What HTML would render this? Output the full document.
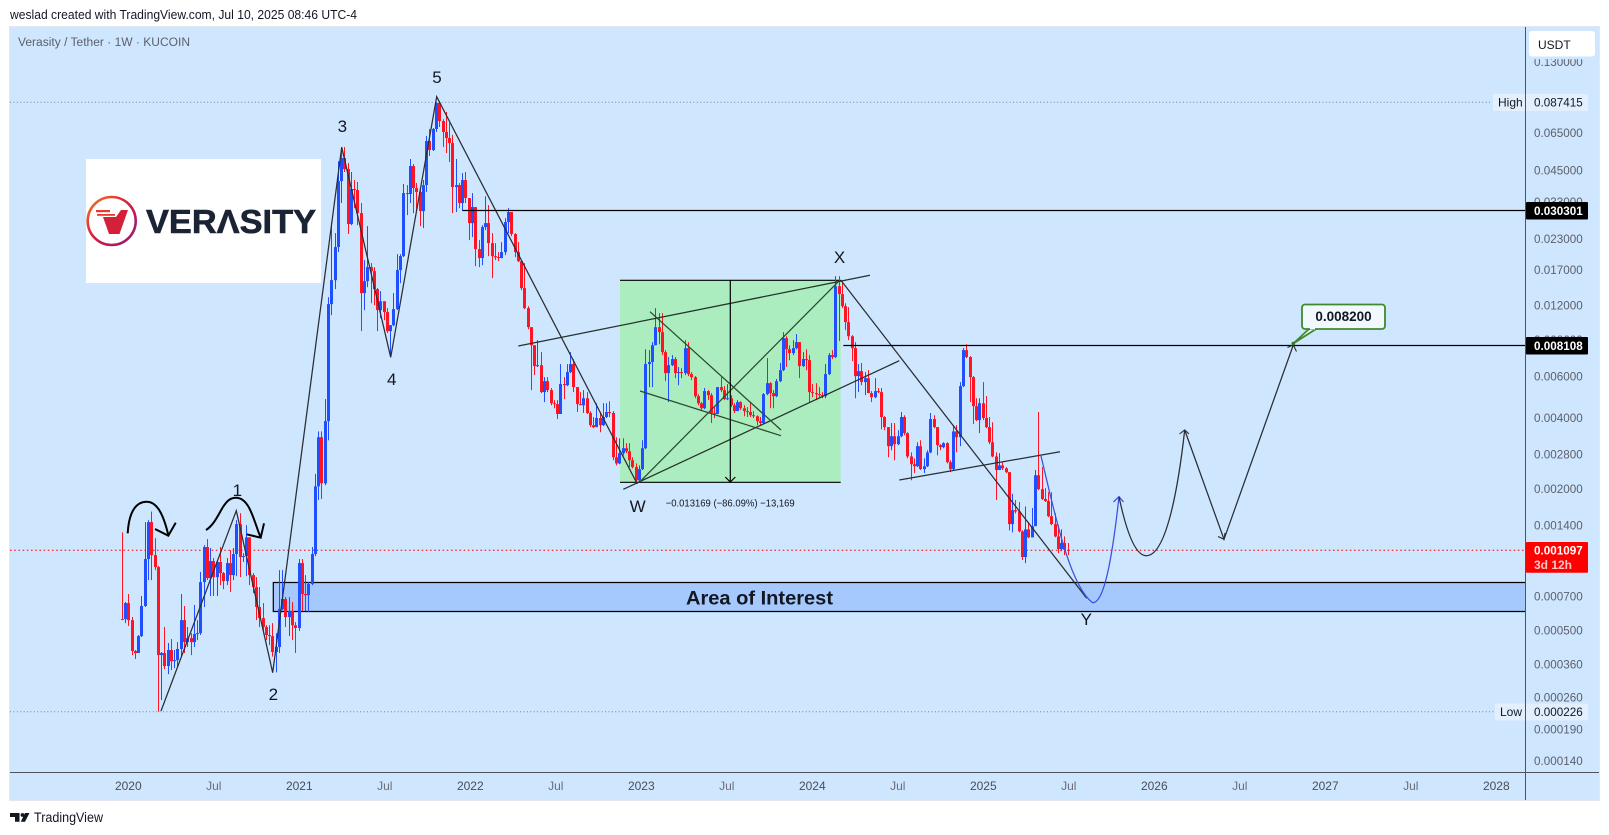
<!DOCTYPE html>
<html lang="en">
<head>
<meta charset="utf-8">
<title>Verasity / Tether 1W chart</title>
<style>
html,body{margin:0;padding:0;background:#fff;width:1609px;height:835px;overflow:hidden}
svg{display:block;font-family:"Liberation Sans",sans-serif}
</style>
</head>
<body>
<svg id="chart" xmlns="http://www.w3.org/2000/svg" width="1609" height="835" viewBox="0 0 1609 835">
  <defs>
    <linearGradient id="ring" x1="0" y1="0" x2="1" y2="1">
      <stop offset="0" stop-color="#f47a20"/>
      <stop offset="0.45" stop-color="#d81f3c"/>
      <stop offset="1" stop-color="#8c1a7c"/>
    </linearGradient>
  </defs>
  <text x="10" y="19" font-size="12.5" fill="#131722" textLength="347" lengthAdjust="spacingAndGlyphs">weslad created with TradingView.com, Jul 10, 2025 08:46 UTC-4</text>

  <rect x="9.5" y="26.5" width="1590" height="774" fill="#cfe6ff" stroke="#e4e8ee" stroke-width="1"/>
  <text x="18" y="46" font-size="11.5" fill="#5d606b" textLength="172" lengthAdjust="spacingAndGlyphs">Verasity / Tether · 1W · KUCOIN</text>

  <g>
    <rect x="86" y="159" width="235" height="124" fill="#ffffff"/>
    <circle cx="111.7" cy="221" r="24" fill="none" stroke="url(#ring)" stroke-width="2.6"/>
    <polygon points="103,217 116,217 121,210 128,210 119.5,234 109,234" fill="#d3213a"/>
    <rect x="96" y="210" width="14" height="2.2" fill="#e8392f"/>
    <rect x="97" y="214" width="18" height="1.8" fill="#e8392f"/>
    <text x="146" y="233" font-size="33" font-weight="700" fill="#1b2435" stroke="#1b2435" stroke-width="0.6" textLength="170" lengthAdjust="spacingAndGlyphs">VERΛSITY</text>
  </g>

  <g>
    <rect x="620" y="280.3" width="220.7" height="202" fill="#abedbf"/>
    <line x1="620" y1="280.3" x2="840.7" y2="280.3" stroke="#000" stroke-width="1.2"/>
    <line x1="620" y1="482.3" x2="840.7" y2="482.3" stroke="#000" stroke-width="1.2"/>
  </g>

  <g>
    <rect x="273.3" y="582.5" width="1251.7" height="29" fill="#a5c9fd"/>
    <path d="M1525 582.5H273.3V611.5H1525" fill="none" stroke="#000" stroke-width="1.2"/>
  </g>

  <line x1="10" y1="102.3" x2="1492" y2="102.3" stroke="#7b8088" stroke-width="1" stroke-dasharray="1 2.4"/>
  <line x1="10" y1="711.7" x2="1494" y2="711.7" stroke="#7b8088" stroke-width="1" stroke-dasharray="1 2.4"/>
  <line x1="10" y1="550.3" x2="1525" y2="550.3" stroke="#ff0000" stroke-width="1" stroke-dasharray="1.6 2.6"/>

  <g id="candles"></g>

  <g fill="none">
    <polyline points="161,711 236.3,510.7 272.7,672.7 341.7,147.3 390.7,357.3 436.7,96.7 637.3,484" stroke="#2a2d33" stroke-width="1.25"/>
    <line x1="518.3" y1="346" x2="870" y2="275.3" stroke="#24322a" stroke-width="1.25"/>
    <line x1="623.3" y1="489.3" x2="899.3" y2="360.7" stroke="#24322a" stroke-width="1.25"/>
    <line x1="640" y1="481.7" x2="838.3" y2="281.7" stroke="#2a4a30" stroke-width="1.25"/>
    <line x1="650" y1="311.7" x2="781" y2="430" stroke="#2a4a30" stroke-width="1.25"/>
    <line x1="640" y1="391" x2="781" y2="435.7" stroke="#2a4a30" stroke-width="1.25"/>
    <line x1="840.7" y1="280" x2="1086.7" y2="598.3" stroke="#2a2d33" stroke-width="1.25"/>
    <line x1="899.3" y1="480" x2="1060" y2="451.7" stroke="#2a2d33" stroke-width="1.25"/>
    <line x1="462.3" y1="210.5" x2="1525" y2="210.5" stroke="#000" stroke-width="1.2"/>
    <line x1="843.3" y1="345.5" x2="1525" y2="345.5" stroke="#000" stroke-width="1.2"/>
    <line x1="730.3" y1="280.3" x2="730.3" y2="482" stroke="#000" stroke-width="1.2"/>
    <path d="M725.3 477L730.3 482L735.3 477" stroke="#000" stroke-width="1.2"/>
    <path d="M1040.7 455C1052 500 1068 585 1092.7 602.7C1104 603 1112 560 1119 496.7" stroke="#3a4fe0" stroke-width="1.25"/>
    <path d="M1113.5 502L1119 496.7L1123.5 502" stroke="#3a4fe0" stroke-width="1.25"/>
    <path d="M1119 496.7C1126 530 1135 555.7 1146.3 555.7C1166 555.7 1178 490 1184.7 430L1224 539.3L1293.3 345" stroke="#2a2d33" stroke-width="1.25"/>
    <path d="M1179.5 434L1184.7 430L1189 434" stroke="#2a2d33" stroke-width="1.1"/>
    <path d="M1218 536.5L1224 539.3L1225 533" stroke="#2a2d33" stroke-width="1.1"/>
    <path d="M1287.5 347.5L1293.3 345L1296.5 351.5" stroke="#2a2d33" stroke-width="1.1"/>
    <path d="M127.7 533.3C129 510 137 501.7 146.7 501.7C158 501.7 164 517 168.3 535" stroke="#000" stroke-width="2"/>
    <path d="M155 529L168.3 535.7L175.7 522.7" stroke="#000" stroke-width="2"/>
    <path d="M206 530C214 525 218 515 223 507C228 499 232 497.7 236 497.7C250 497.7 254 522 260.7 537.7" stroke="#000" stroke-width="2"/>
    <path d="M246.7 534.3L260.7 537.7L264 523.3" stroke="#000" stroke-width="2"/>
  </g>

  <g font-size="17" fill="#131722" text-anchor="middle">
    <text x="237.3" y="496">1</text>
    <text x="273.3" y="700">2</text>
    <text x="342.3" y="132">3</text>
    <text x="391.7" y="385">4</text>
    <text x="437" y="83">5</text>
    <text x="637.7" y="512">W</text>
    <text x="839.5" y="263">X</text>
    <text x="1086.3" y="625">Y</text>
  </g>

  <text x="665.7" y="506.5" font-size="10.5" fill="#131722" textLength="129" lengthAdjust="spacingAndGlyphs">−0.013169 (−86.09%) −13,169</text>
  <text x="759.5" y="604.5" font-size="19.5" font-weight="700" fill="#131722" text-anchor="middle" textLength="147" lengthAdjust="spacingAndGlyphs">Area of Interest</text>

  <g>
    <path d="M1293.3 343.5L1309 329H1316Z" fill="#f1f8ff" stroke="#3f8a2c" stroke-width="1.8"/>
    <rect x="1302" y="304.5" width="83" height="24.5" rx="3" fill="#f1f8ff" stroke="#3f8a2c" stroke-width="1.8"/>
    <rect x="1310" y="327.5" width="5" height="2" fill="#f1f8ff"/>
    <circle cx="1293.3" cy="343.5" r="1.8" fill="#2f7a22"/>
    <text x="1343.5" y="321" font-size="13.5" font-weight="700" fill="#131722" text-anchor="middle">0.008200</text>
  </g>

  <g id="price-axis">
    <line x1="1525.5" y1="27" x2="1525.5" y2="800" stroke="#50535e" stroke-width="1"/>
  </g>
  <g id="time-axis">
    <line x1="10" y1="772.5" x2="1599" y2="772.5" stroke="#50535e" stroke-width="1"/>
  </g>

  <g id="price-labels" font-size="12">
    <rect x="1529" y="56" width="66" height="3.2" fill="#cfe6ff"/>
    <rect x="1529" y="31" width="66" height="25.5" rx="3" fill="#ffffff"/>
    <text x="1538" y="49" fill="#131722" font-size="12">USDT</text>

    <rect x="1493" y="94" width="32" height="17" fill="#e3effc"/>
    <text x="1498" y="106.5" fill="#131722">High</text>
    <rect x="1526" y="94" width="62" height="17" fill="#e3effc"/>
    <text x="1534" y="106.5" fill="#131722" textLength="48.7" lengthAdjust="spacingAndGlyphs">0.087415</text>

    <rect x="1495" y="703.5" width="30" height="17" fill="#e3effc"/>
    <text x="1500" y="716" fill="#131722">Low</text>
    <rect x="1526" y="703.5" width="62" height="17" fill="#e3effc"/>
    <text x="1534" y="716" fill="#131722" textLength="48.7" lengthAdjust="spacingAndGlyphs">0.000226</text>

    <rect x="1526" y="202" width="62" height="17.5" fill="#000000" rx="1"/>
    <text x="1534" y="215" fill="#ffffff" font-weight="700" textLength="48.7" lengthAdjust="spacingAndGlyphs">0.030301</text>
    <rect x="1526" y="337" width="62" height="17.5" fill="#000000" rx="1"/>
    <text x="1534" y="350" fill="#ffffff" font-weight="700" textLength="48.7" lengthAdjust="spacingAndGlyphs">0.008108</text>

    <rect x="1526" y="542" width="62" height="30.7" fill="#ff0000" rx="1"/>
    <text x="1534" y="554.5" fill="#ffffff" font-weight="700" textLength="48.7" lengthAdjust="spacingAndGlyphs">0.001097</text>
    <text x="1534" y="569" fill="#ffc4c4" font-weight="700">3d 12h</text>
  </g>

  <g>
    <path d="M10 813H19.5V821.7H15V817H10Z" fill="#131722"/>
    <circle cx="22.5" cy="815" r="1.9" fill="#131722"/>
    <path d="M25 813H29.5L25 821.7H20.8Z" fill="#131722"/>
    <text x="34" y="822" font-size="13.5" fill="#131722" textLength="69" lengthAdjust="spacingAndGlyphs">TradingView</text>
  </g>
</svg>

<script>
// Weekly candle values in micro-USDT (1 = 0.000001 USDT). Each open equals the prior close.
const closes = [
559,653,553,409,401,473,635,1005,1442,1044,
929,393,401,353,413,370,374,417,553,446,
464,446,483,487,802,1130,834,985,842,976,
876,810,966,859,1055,1414,1025,1034,1242,859,
764,629,564,517,478,473,405,425,616,680,
570,604,526,512,966,714,706,787,1055,2046,
3306,2107,3871,12150,15360,21220,40460,50700,45520,26580,
37440,37060,29590,13530,15210,17450,16770,14070,11460,12500,
11240,9330,9890,11570,16940,19430,35990,35650,46870,37800,
36360,30170,38910,59850,54810,67330,86800,72800,65390,61660,
58700,38170,38910,32640,40870,34280,26830,31390,20810,19060,
25810,26830,22060,19430,19240,19060,20210,27110,29890,24110,
20210,18490,14210,11680,9700,8130,6630,6690,5140,5720,
5240,4610,4570,4150,5560,5500,6250,6760,5400,4570,
4520,4840,4190,3720,3650,3990,3720,4030,4230,4190,
2720,2560,2830,2970,2880,2640,2470,2170,2420,2970,
6760,6900,8130,9700,9240,7600,6190,6690,7100,6190,
6250,6190,7900,6130,5950,4940,4610,4390,5190,4990,
4190,4150,5400,5240,4800,4840,4520,4270,4660,4390,
4270,4230,4100,4060,3870,3800,5040,5610,5090,4940,
5720,6370,8710,7820,7530,7900,8380,6630,7100,7030,
5140,5090,5040,4990,4940,6130,7380,7240,14480,13400,
11910,10190,8880,7900,6010,6310,5670,5890,5090,4890,
5190,5140,4030,3650,3030,3340,3090,3340,4030,3440,
2740,2540,2490,3030,2420,2490,2850,3950,3650,3060,
3000,3120,2590,2420,3500,3306,5450,7750,7240,5950,
4480,3910,4610,3990,3650,3150,2740,2400,2510,2440,
2350,1414,1620,1600,1317,1025,1343,1242,1386,2280,
1990,1808,1772,1528,1414,1254,1108,1175,1100,1097
];
const highs = [
1305,660,714,570,413,478,700,1442,1470,1600,
1233,940,405,517,442,460,413,446,714,635,
517,487,641,553,885,1152,1222,1119,1015,995,
1130,885,1015,1097,1119,1470,1573,1065,1400,1242,
876,842,764,653,526,526,537,487,902,902,
693,693,660,542,1005,1005,859,802,1130,2310,
3500,3500,4800,13000,27100,24330,49200,56460,56460,48260,
44210,40870,40090,32640,18680,26050,18140,17450,14210,13790,
12500,11680,9890,13530,19820,19820,39320,38910,50200,47810,
39690,37060,40870,62860,67330,68000,87415,87415,74200,79500,
71400,63460,50200,39690,43760,44210,34280,35990,31390,22720,
26300,34900,32000,24330,22060,20210,22280,28180,31080,29890,
24330,22280,18680,18140,11910,9700,8130,8540,7600,5950,
5950,5350,4750,4750,6760,5950,6760,7600,7100,5400,
5140,5240,5140,4270,4030,4610,4230,4610,4610,4700,
4270,3306,3270,3270,3120,3120,2720,2560,2510,3210,
7820,7750,8380,11680,11120,11120,7750,7240,7380,7240,
6570,6500,8540,8380,6250,6010,5040,4660,5350,5240,
5090,4440,5400,5950,5450,5560,4990,4610,4750,4700,
4520,4440,4610,4270,4100,4030,5090,7170,5670,5240,
5840,6830,9240,8880,8130,8540,9060,8380,7600,7820,
7380,5560,5610,5400,5140,6760,7530,7750,15970,15970,
14920,12260,11800,8970,8380,6760,6830,6250,6370,5190,
5890,5350,5350,4060,3540,3800,3800,3540,4230,4100,
3470,2850,2690,3150,3210,2690,2910,4190,4100,3650,
3090,3150,3150,2640,3720,3720,5670,7900,8210,7310,
6010,4840,4840,5670,4940,4030,3830,2850,2830,2590,
2470,2350,1900,1790,1755,1330,1680,1442,1655,2400,
4230,2470,2010,1930,1930,1570,1400,1343,1254,1175
];
const lows = [
555,537,523,393,378,401,469,629,818,818,
902,226,253,342,326,339,346,349,387,401,
425,393,425,455,478,629,818,700,700,700,
779,749,779,728,818,850,842,976,850,779,
720,553,517,487,455,433,387,332,401,610,
517,473,455,401,497,604,604,598,779,1034,
1790,1808,2070,3210,10910,14070,20210,32640,44210,24110,
26300,31080,26300,9330,11460,14350,12260,12030,9330,10600,
10390,9150,7310,9790,11460,14920,19240,29000,32640,29590,
30470,26050,25550,36360,51700,54280,65390,68700,56460,53200,
48760,29590,29890,31080,30470,32640,22720,23400,17620,17450,
17800,25060,19430,15670,18680,18490,19060,19610,24330,23630,
19240,18320,13930,11570,9500,5240,6070,6570,5090,4660,
5140,4520,4390,3950,4150,4800,5450,6190,5140,4230,
4520,4190,4150,3650,3610,3650,3470,3690,3990,4030,
2640,2510,2540,2770,2830,2470,2440,2110,2150,2400,
2940,5400,5400,8210,8210,7380,5720,4660,6630,5890,
5500,5890,6070,6010,5780,4840,4520,4310,4350,4750,
3800,3990,4150,5140,4750,4750,4440,4190,4270,4310,
4060,4030,4030,3990,3720,3720,3760,4990,4390,4390,
4890,5670,6310,6570,7030,7380,7820,5890,6570,6370,
4660,4890,4750,4890,4840,4840,6070,7100,7170,8460,
11680,9420,8540,6960,4840,5140,5500,4990,5090,4660,
4840,5090,3570,3540,2720,2910,2640,3060,3306,3370,
2690,2170,2330,2470,2400,2330,2470,2830,3610,2770,
2910,2970,2560,2350,2400,2850,3030,5400,7170,4660,
3760,3870,3440,3910,3610,3090,2720,1790,2400,2400,
2330,1330,1305,1570,1305,995,966,1233,1242,1428,
1970,1790,1755,1514,1400,1242,1065,1086,1044,1044
];
const priceTickLabels = ["0.130000","0.065000","0.045000","0.033000","0.023000","0.017000","0.012000","0.008600","0.006000","0.004000","0.002800","0.002000","0.001400","0.000700","0.000500","0.000360","0.000260","0.000190","0.000140"];
const timeTickLabels = ["2020","Jul","2021","Jul","2022","Jul","2023","Jul","2024","Jul","2025","Jul","2026","Jul","2027","Jul","2028"];
const timeTickYears = [2020,2020.5,2021,2021.5,2022,2022.5,2023,2023.5,2024,2024.5,2025,2025.5,2026,2026.5,2027,2027.5,2028];

const SVG_NS = "http://www.w3.org/2000/svg";
function yOfMicro(micro){ return 102.3 + 235.5 * Math.log10(87415 / micro); }
function xOfWeek(week){ return 122.3 + 3.273 * week; }
function xOfYear(year){ return 128.3 + 171 * (year - 2020); }

const candleLayer = document.getElementById("candles");
closes.forEach(function(close, i){
  const open = i === 0 ? close : closes[i - 1];
  const up = close > open;
  const color = up ? "#1f4fff" : "#ff1424";
  const x = Math.round(xOfWeek(i) - 0.5) + 0.5;
  const top = Math.max(open, close);
  const bottom = Math.min(open, close);
  const wick = document.createElementNS(SVG_NS, "line");
  
  
  wick.setAttribute("x1", x);
  wick.setAttribute("x2", x);
  wick.setAttribute("y1", yOfMicro(Math.max(highs[i], top)));
  wick.setAttribute("y2", yOfMicro(Math.min(lows[i], bottom)));
  wick.setAttribute("stroke", color);
  wick.setAttribute("stroke-width", "1");
  candleLayer.appendChild(wick);
  const body = document.createElementNS(SVG_NS, "rect");
  
  
  body.setAttribute("x", x - 1.5);
  body.setAttribute("width", "3");
  body.setAttribute("y", yOfMicro(top));
  body.setAttribute("height", Math.max(1, yOfMicro(bottom) - yOfMicro(top)));
  body.setAttribute("fill", color);
  candleLayer.appendChild(body);
});

const priceAxis = document.getElementById("price-axis");
priceTickLabels.forEach(function(label){
  const t = document.createElementNS(SVG_NS, "text");
  
  
  t.setAttribute("x", "1534");
  t.setAttribute("y", yOfMicro(parseFloat(label) * 1e6) + 4.3);
  t.setAttribute("font-size", "12");
  t.setAttribute("fill", "#5d606b");
  t.setAttribute("textLength", "48.7");
  t.setAttribute("lengthAdjust", "spacingAndGlyphs");
  t.textContent = label;
  priceAxis.appendChild(t);
});

const timeAxis = document.getElementById("time-axis");
timeTickLabels.forEach(function(label, i){
  const t = document.createElementNS(SVG_NS, "text");
  
  
  t.setAttribute("x", xOfYear(timeTickYears[i]));
  t.setAttribute("y", "790");
  t.setAttribute("font-size", "12");
  t.setAttribute("text-anchor", "middle");
  t.setAttribute("fill", label === "Jul" ? "#6a6d78" : "#4a4d57");
  t.textContent = label;
  timeAxis.appendChild(t);
});
</script>
</body>
</html>
